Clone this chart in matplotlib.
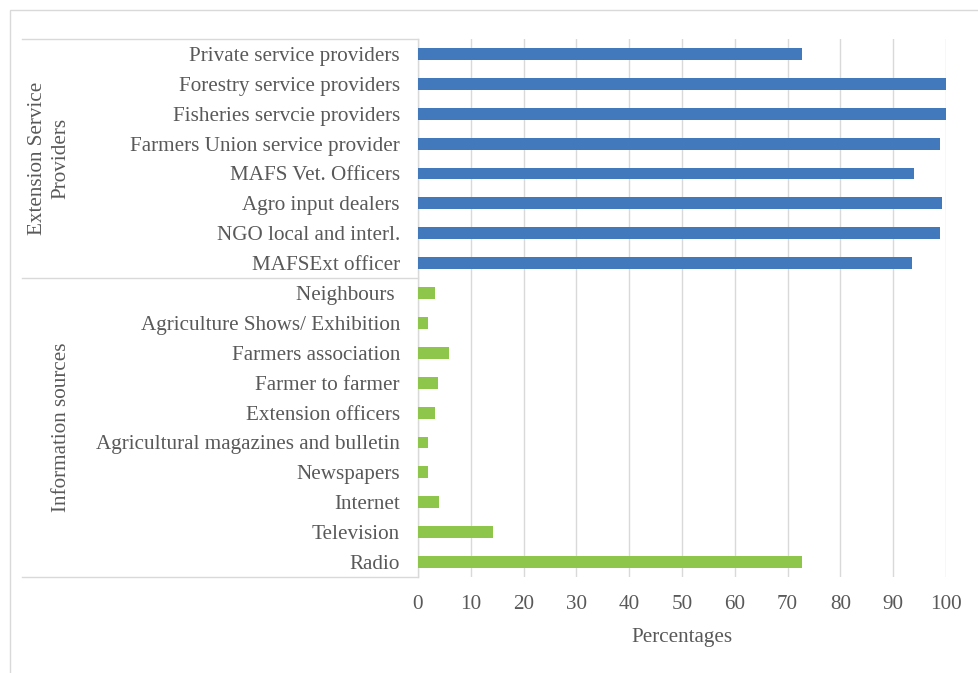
import matplotlib
matplotlib.use("Agg")
import matplotlib.pyplot as plt
from matplotlib import transforms
from matplotlib.patches import Rectangle

plt.rcParams['font.family'] = ['Liberation Serif', 'DejaVu Serif']

# Data (bottom to top)
info_labels = ["Radio", "Television", "Internet", "Newspapers",
               "Agricultural magazines and bulletin", "Extension officers",
               "Farmer to farmer", "Farmers association",
               "Agriculture Shows/ Exhibition", "Neighbours "]
info_values = [72.7, 14.2, 4.0, 1.9, 1.9, 3.2, 3.8, 5.8, 1.9, 3.2]

ext_labels = ["MAFSExt officer", "NGO local and interl.", "Agro input dealers",
              "MAFS Vet. Officers", "Farmers Union service provider",
              "Fisheries servcie providers", "Forestry service providers",
              "Private service providers"]
ext_values = [93.6, 98.9, 99.3, 94.0, 98.9, 100.0, 100.0, 72.7]

group_names = ["Information sources", "Extension Service\nProviders"]
x_ticks = [0, 10, 20, 30, 40, 50, 60, 70, 80, 90, 100]
x_label = "Percentages"

BLUE = "#4279BD"
GREEN = "#8DC64B"
TXT = "#595959"
GRID = "#D9D9D9"
FS = 15.2

W, H = 979, 673
fig = plt.figure(figsize=(W / 100, H / 100), dpi=100)

# border
fig.patches.append(Rectangle((10 / W, -0.01), 1.02, (H - 10) / H + 0.01,
                             transform=fig.transFigure, fill=False,
                             edgecolor=GRID, linewidth=1.0))

x0, x1 = 418, 946
y_top, y_bot = 39, 577
ax = fig.add_axes([x0 / W, 1 - y_bot / H, (x1 - x0) / W, (y_bot - y_top) / H])

n_info = len(info_labels)
pos_info = list(range(n_info))
pos_ext = list(range(n_info, n_info + len(ext_labels)))

ax.barh(pos_info, info_values, height=0.4, color=GREEN, zorder=3)
ax.barh(pos_ext, ext_values, height=0.4, color=BLUE, zorder=3)

ax.set_xlim(0, 100)
ax.set_ylim(-0.5, n_info + len(ext_labels) - 0.5)
ax.set_xticks(x_ticks)
ax.set_xticklabels([str(t) for t in x_ticks])
ax.set_yticks(pos_info + pos_ext)
ax.set_yticklabels(info_labels + ext_labels)

for s in ["top", "right", "bottom"]:
    ax.spines[s].set_visible(False)
ax.spines["left"].set_color(GRID)
ax.spines["left"].set_linewidth(1.0)

ax.grid(axis='x', color=GRID, linewidth=1.0, zorder=0)
ax.tick_params(axis='y', length=0, pad=13, labelsize=FS, labelcolor=TXT)
ax.tick_params(axis='x', length=0, pad=13, labelsize=FS, labelcolor=TXT)
ax.set_xlabel(x_label, fontsize=FS, color=TXT, labelpad=10)

# category table lines
tr = transforms.blended_transform_factory(ax.transAxes, ax.transData)
xl = (22 - x0) / (x1 - x0)
for yv in [-0.5, n_info - 0.5, n_info + len(ext_labels) - 0.5]:
    ax.plot([xl, 0], [yv, yv], transform=tr, color=GRID, lw=1.0, clip_on=False)

# group labels
trx = transforms.blended_transform_factory(fig.transFigure, ax.transData)
ax.text(62 / W, (n_info - 1) / 2, group_names[0], transform=trx, rotation=90,
        ha='center', va='center', fontsize=FS, color=TXT)
ax.text(49 / W, n_info + (len(ext_labels) - 1) / 2, group_names[1], transform=trx,
        rotation=90, ha='center', va='center', fontsize=FS, color=TXT,
        multialignment='center', linespacing=1.3)

fig.savefig("out.png", dpi=100)
